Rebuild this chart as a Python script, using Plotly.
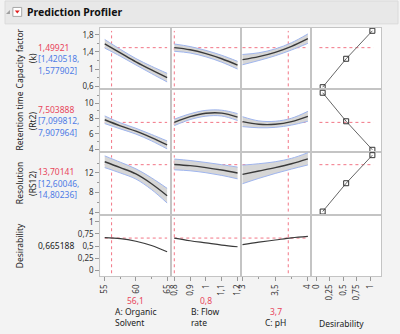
import plotly.graph_objects as go

# ---------------- data ----------------
factor_labels = ["A: Organic<br>Solvent", "B: Flow<br>rate", "C: pH"]
factor_current = [56.1, 0.8, 3.7]
factor_current_text = ["56,1", "0,8", "3,7"]
factor_min = [55, 0.8, 3.0]
factor_max = [65, 1.2, 4.0]

organic_x = [55, 57.5, 60, 62.5, 65]
flow_x = [0.8, 0.9, 1.0, 1.1, 1.2]
ph_x = [3.0, 3.25, 3.5, 3.75, 4.0]

response_title_line1 = ["Capacity factor", "Retention time", "Resolution", "Desirability"]
response_title_line2 = ["(k)", "(Rt2)", "(RS12)", ""]
response_current = [1.49921, 7.503888, 13.70141, 0.665188]
response_current_text = ["1,49921", "7,503888", "13,70141", "0,665188"]
response_ci_low_text = ["[1,420518,", "[7,099812,", "[12,60046,", ""]
response_ci_high_text = ["1,577902]", "7,907964]", "14,80236]", ""]

# Capacity factor (k)
k_vs_organic = [1.59, 1.38, 1.17, 0.98, 0.80]
k_vs_organic_hw = [0.10, 0.08, 0.075, 0.085, 0.10]
k_vs_flow = [1.50, 1.45, 1.36, 1.24, 1.09]
k_vs_flow_hw = [0.085, 0.075, 0.075, 0.08, 0.09]
k_vs_ph = [1.22, 1.29, 1.39, 1.53, 1.71]
k_vs_ph_hw = [0.12, 0.09, 0.08, 0.085, 0.11]

# Retention time (Rt2)
rt_vs_organic = [7.85, 7.05, 6.35, 5.50, 4.55]
rt_vs_organic_hw = [0.50, 0.40, 0.38, 0.42, 0.52]
rt_vs_flow = [7.50, 8.25, 8.70, 8.72, 8.20]
rt_vs_flow_hw = [0.42, 0.38, 0.38, 0.38, 0.45]
rt_vs_ph = [7.60, 7.25, 7.25, 7.60, 8.30]
rt_vs_ph_hw = [0.65, 0.45, 0.40, 0.45, 0.65]

# Resolution (RS12)
rs_vs_organic = [14.3, 13.1, 11.8, 9.8, 7.35]
rs_vs_organic_hw = [1.2, 1.1, 1.05, 1.2, 1.5]
rs_vs_flow = [13.75, 13.5, 13.1, 12.6, 12.0]
rs_vs_flow_hw = [1.1, 1.05, 1.05, 1.1, 1.2]
rs_vs_ph = [11.7, 12.4, 13.1, 13.9, 14.9]
rs_vs_ph_hw = [1.9, 1.5, 1.2, 1.1, 1.25]

# Overall desirability
d_vs_organic = [0.675, 0.655, 0.600, 0.510, 0.380]
d_vs_flow = [0.665, 0.610, 0.565, 0.520, 0.485]
d_vs_ph = [0.530, 0.580, 0.625, 0.670, 0.700]

# Desirability functions (x = desirability, y = response)
desir_pts = [0.12, 0.555, 1.04]
desir_k = [0.577, 1.24, 1.893]
desir_rt = [11.39, 7.65, 3.91]
desir_rs = [4.1, 9.9, 15.65]
desir_ref_span = [0.06, 1.06]

# tick labels
x_tickvals = [[55, 60, 65], [0.8, 0.9, 1.0, 1.1, 1.2], [3, 3.5, 4], [0, 0.25, 0.5, 0.75, 1]]
x_ticktext = [["55", "60", "65"], ["0,8", "0,9", "1", "1,1", "1,2"], ["3", "3,5", "4"],
              ["0", "0,25", "0,5", "0,75", "1"]]
x_minor = [[57.5, 62.5], [], [3.25, 3.75], []]
y_tickvals = [[0.6, 1, 1.4, 1.8], [4, 6, 8, 10], [4, 8, 12], [0, 0.25, 0.5, 0.75, 1]]
y_ticktext = [["0,6", "1", "1,4", "1,8"], ["4", "6", "8", "10"], ["4", "8", "12"],
              ["0", "0,25", "0,5", "0,75", "1"]]
y_minor = [[0.8, 1.2, 1.6], [5, 7, 9, 11], [6, 10, 14], []]

# ---------------- view / style ----------------
W, H = 400, 334
col_px = [(97, 169), (169, 240), (240, 311), (311, 383)]
row_px = [(28, 90), (90, 153), (153, 216), (216, 278)]
x_ranges = [[54.29, 65.63], [0.7795, 1.2205], [2.974, 4.041], [-0.104, 1.205]]
y_ranges = [[0.524, 1.962], [3.61, 11.82], [3.45, 16.28], [-0.13, 1.151]]

FONT = "Noto Sans"
RED = "#e8465c"
BLUE = "#4f7ce6"
LINE = "#3a3a3a"
BAND = "#d6d6d6"
BAND_EDGE = "#9fb5ee"
REF = "#f27585"
BORDER = "#c4c4c4"


def px_x(p):
    return p / W


def px_y(p):
    return 1 - p / H


fig = go.Figure()

curves = [
    [(organic_x, k_vs_organic, k_vs_organic_hw), (flow_x, k_vs_flow, k_vs_flow_hw), (ph_x, k_vs_ph, k_vs_ph_hw)],
    [(organic_x, rt_vs_organic, rt_vs_organic_hw), (flow_x, rt_vs_flow, rt_vs_flow_hw), (ph_x, rt_vs_ph, rt_vs_ph_hw)],
    [(organic_x, rs_vs_organic, rs_vs_organic_hw), (flow_x, rs_vs_flow, rs_vs_flow_hw), (ph_x, rs_vs_ph, rs_vs_ph_hw)],
    [(organic_x, d_vs_organic, None), (flow_x, d_vs_flow, None), (ph_x, d_vs_ph, None)],
]
desir_funcs = [desir_k, desir_rt, desir_rs]

shapes = []


def ax_names(r, c):
    i = r * 4 + c + 1
    s = "" if i == 1 else str(i)
    return "x" + s, "y" + s, "xaxis" + s, "yaxis" + s


for r in range(4):
    for c in range(4):
        xn, yn, xa, ya = ax_names(r, c)
        if c < 3:
            xs, ys, hw = curves[r][c]
            shapes.append(dict(type="line", xref=xn, yref=yn + " domain", x0=factor_current[c],
                               x1=factor_current[c], y0=0.05, y1=0.95, layer="below",
                               line=dict(color=REF, width=1, dash="dot")))
            shapes.append(dict(type="line", xref=xn, yref=yn, x0=factor_min[c], x1=factor_max[c],
                               y0=response_current[r], y1=response_current[r], layer="below",
                               line=dict(color=REF, width=1, dash="dot")))
            if hw is not None:
                lo = [v - h for v, h in zip(ys, hw)]
                hi = [v + h for v, h in zip(ys, hw)]
                fig.add_trace(go.Scatter(x=xs, y=lo, mode="lines", xaxis=xn, yaxis=yn,
                                         line=dict(color=BAND_EDGE, width=1, shape="spline"),
                                         hoverinfo="skip"))
                fig.add_trace(go.Scatter(x=xs, y=hi, mode="lines", xaxis=xn, yaxis=yn, fill="tonexty",
                                         fillcolor=BAND,
                                         line=dict(color=BAND_EDGE, width=1, shape="spline"),
                                         hoverinfo="skip"))
                lw = 1.4
            else:
                lw = 1.2
            fig.add_trace(go.Scatter(x=xs, y=ys, mode="lines", xaxis=xn, yaxis=yn,
                                     line=dict(color=LINE, width=lw, shape="spline")))
        elif r < 3:
            shapes.append(dict(type="line", xref=xn, yref=yn, x0=desir_ref_span[0], x1=desir_ref_span[1],
                               y0=response_current[r], y1=response_current[r], layer="below",
                               line=dict(color=REF, width=1, dash="dot")))
            fig.add_trace(go.Scatter(x=desir_pts, y=desir_funcs[r], mode="lines+markers", xaxis=xn, yaxis=yn,
                                     line=dict(color="#666666", width=1),
                                     marker=dict(symbol="square-open", size=5, color="#333333",
                                                 line=dict(width=1))))
        else:
            fig.add_trace(go.Scatter(x=[None], y=[None], mode="lines", xaxis=xn, yaxis=yn))

        bottom = r == 3
        left = c == 0
        xax = dict(domain=[px_x(col_px[c][0]), px_x(col_px[c][1])], anchor=yn, range=x_ranges[c],
                   showgrid=False, zeroline=False, showline=True, mirror=True, linecolor=BORDER,
                   linewidth=1, fixedrange=True)
        if bottom:
            xax.update(tickmode="array", tickvals=x_tickvals[c], ticktext=x_ticktext[c], ticks="outside",
                       ticklen=4, tickcolor="#999999", tickangle=-90,
                       tickfont=dict(family=FONT, size=8, color="#333333"),
                       minor=dict(tickvals=x_minor[c], ticks="outside", ticklen=2, tickcolor="#999999"))
        else:
            xax.update(showticklabels=False, ticks="")
        yax = dict(domain=[px_y(row_px[r][1]), px_y(row_px[r][0])], anchor=xn, range=y_ranges[r],
                   showgrid=False, zeroline=False, showline=True, mirror=True, linecolor=BORDER,
                   linewidth=1, fixedrange=True)
        if left:
            yax.update(tickmode="array", tickvals=y_tickvals[r], ticktext=y_ticktext[r], ticks="outside",
                       ticklen=4, tickcolor="#999999",
                       tickfont=dict(family=FONT, size=8, color="#333333"),
                       minor=dict(tickvals=y_minor[r], ticks="outside", ticklen=2, tickcolor="#999999"))
        else:
            yax.update(showticklabels=False, ticks="")
        fig.layout[xa] = xax
        fig.layout[ya] = yax

annotations = []
# header
shapes.append(dict(type="rect", xref="paper", yref="paper", x0=0, x1=1, y0=px_y(24), y1=px_y(1),
                   fillcolor="#e8e8e8", line=dict(color="#dadada", width=1), layer="below"))
shapes.append(dict(type="rect", xref="paper", yref="paper", x0=px_x(8), x1=px_x(17), y0=px_y(16.5),
                   y1=px_y(7.5), fillcolor="white", line=dict(color="#a8a8a8", width=1)))
shapes.append(dict(type="path", xref="paper", yref="paper",
                   path=f"M {px_x(10)},{px_y(10.5)} L {px_x(15)},{px_y(10.5)} L {px_x(12.5)},{px_y(13.5)} Z",
                   fillcolor="#e02020", line=dict(width=0)))
shapes.append(dict(type="path", xref="paper", yref="paper",
                   path=f"M {px_x(1)},{px_y(14)} L {px_x(5)},{px_y(10)} L {px_x(5)},{px_y(14)} Z",
                   fillcolor="#a0a0a0", line=dict(width=0)))
annotations.append(dict(text="<b>Prediction Profiler</b>", x=px_x(20), y=px_y(12.5), xref="paper",
                        yref="paper", xanchor="left", yanchor="middle", showarrow=False,
                        font=dict(family=FONT, size=10.5, color="#111111")))

TITLE_SIZE = 8.5
for r in range(4):
    cy = (row_px[r][0] + row_px[r][1]) / 2
    annotations.append(dict(text=response_title_line1[r], x=px_x(15), y=px_y(cy), xref="paper",
                            yref="paper", textangle=-90, showarrow=False, xanchor="center",
                            yanchor="middle", font=dict(family=FONT, size=TITLE_SIZE, color="#222222")))
    if response_title_line2[r]:
        annotations.append(dict(text=response_title_line2[r], x=px_x(28), y=px_y(cy), xref="paper",
                                yref="paper", textangle=-90, showarrow=False, xanchor="center",
                                yanchor="middle", font=dict(family=FONT, size=TITLE_SIZE, color="#222222")))
        annotations.append(dict(text=response_current_text[r], x=px_x(32), y=px_y(cy - 11.5), xref="paper",
                                yref="paper", showarrow=False, xanchor="left", yanchor="middle",
                                font=dict(family=FONT, size=8.5, color=RED)))
        annotations.append(dict(text=response_ci_low_text[r], x=px_x(32), y=px_y(cy), xref="paper",
                                yref="paper", showarrow=False, xanchor="left", yanchor="middle",
                                font=dict(family=FONT, size=8.5, color=BLUE)))
        annotations.append(dict(text=response_ci_high_text[r], x=px_x(32), y=px_y(cy + 11.5), xref="paper",
                                yref="paper", showarrow=False, xanchor="left", yanchor="middle",
                                font=dict(family=FONT, size=8.5, color=BLUE)))
    else:
        annotations.append(dict(text=response_current_text[r], x=px_x(32), y=px_y(cy), xref="paper",
                                yref="paper", showarrow=False, xanchor="left", yanchor="middle",
                                font=dict(family=FONT, size=8.5, color="#222222")))

for c in range(3):
    cx = (col_px[c][0] + col_px[c][1]) / 2
    two_line = "<br>" in factor_labels[c]
    vy = 302 if two_line else 313
    annotations.append(dict(text=factor_current_text[c], x=px_x(cx), y=px_y(vy), xref="paper", yref="paper",
                            showarrow=False, xanchor="center", yanchor="middle",
                            font=dict(family=FONT, size=8.5, color=RED)))
    annotations.append(dict(text=factor_labels[c], x=px_x(cx), y=px_y(318.5 if two_line else 324),
                            xref="paper", yref="paper", showarrow=False, xanchor="center",
                            yanchor="middle", align="left",
                            font=dict(family=FONT, size=8.5, color="#222222")))
annotations.append(dict(text="Desirability", x=px_x(343), y=px_y(325), xref="paper", yref="paper",
                        showarrow=False, xanchor="center", yanchor="middle",
                        font=dict(family=FONT, size=8.5, color="#222222")))

fig.update_layout(width=W, height=H, margin=dict(l=0, r=0, t=0, b=0), paper_bgcolor="#f3f3f3",
                  plot_bgcolor="white", showlegend=False, shapes=shapes, annotations=annotations,
                  hovermode=False)

fig.write_html("out.html")
